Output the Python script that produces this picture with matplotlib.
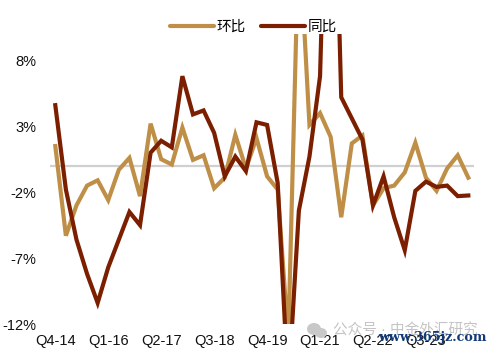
import matplotlib
matplotlib.use('Agg')
import numpy as np
import matplotlib.pyplot as plt
from matplotlib.patches import Ellipse

plt.rcParams['font.family'] = ['Liberation Sans', 'Noto Sans CJK SC', 'DejaVu Sans']

TAN = '#BF8F47'
DARK = '#7B1F00'

quarters = ['Q4-14', 'Q1-15', 'Q2-15', 'Q3-15', 'Q4-15', 'Q1-16', 'Q2-16', 'Q3-16',
            'Q4-16', 'Q1-17', 'Q2-17', 'Q3-17', 'Q4-17', 'Q1-18', 'Q2-18', 'Q3-18',
            'Q4-18', 'Q1-19', 'Q2-19', 'Q3-19', 'Q4-19', 'Q1-20', 'Q2-20', 'Q3-20',
            'Q4-20', 'Q1-21', 'Q2-21', 'Q3-21', 'Q4-21', 'Q1-22', 'Q2-22', 'Q3-22',
            'Q4-22', 'Q1-23', 'Q2-23', 'Q3-23', 'Q4-23', 'Q1-24', 'Q2-24', 'Q3-24']
shown_labels = ['Q4-14', 'Q1-16', 'Q2-17', 'Q3-18', 'Q4-19', 'Q1-21', 'Q2-22', 'Q3-23']

qoq = [1.5, -5.3, -3.0, -1.5, -1.1, -2.6, -0.3, 0.6, -2.3, 3.2,
       0.5, 0.1, 2.9, 0.45, 0.8, -1.7, -0.9, 2.35, -0.2, 2.1,
       -0.8, -1.8, -13.2, 18.0, 3.1, 4.0, 2.2, -3.9, 1.7, 2.3,
       -3.0, -1.7, -1.5, -0.5, 1.75, -0.9, -1.9, -0.2, 0.8, -0.9]
yoy = [4.6, -1.8, -5.6, -8.2, -10.4, -7.7, -5.6, -3.5, -4.5, 1.0,
       1.9, 1.4, 6.8, 3.9, 4.2, 2.5, -0.8, 0.7, -0.4, 3.3,
       3.1, -1.3, -17.0, -3.4, 0.7, 6.8, 35.0, 5.2, 3.6, 2.0,
       -3.0, -0.8, -3.9, -6.4, -1.9, -1.2, -1.6, -1.5, -2.3, -2.25]
yticks = [8, 3, -2, -7, -12]

fig = plt.figure(figsize=(5, 3.53), dpi=100)
ax = fig.add_axes([50 / 500, 1 - 324 / 353, 423.6 / 500, 290 / 353])

x = np.arange(len(quarters))
ax.axhline(0, color='#D0D0D0', lw=1.6, zorder=1)
ax.plot(x, qoq, color=TAN, lw=3, label='环比', zorder=2, solid_joinstyle='miter')
ax.plot(x, yoy, color=DARK, lw=3, label='同比', zorder=3, solid_joinstyle='miter')

ax.set_xlim(-0.5, 39.5)
ax.set_ylim(-12, 10)
ax.set_yticks(yticks)
ax.set_yticklabels([f'{v}%' for v in yticks], fontsize=10.5, color='#111111')
ax.set_xticks([quarters.index(q) for q in shown_labels])
ax.set_xticklabels(shown_labels, fontsize=10.5, color='#111111')
ax.tick_params(length=0, axis='y', pad=10)
ax.tick_params(length=0, axis='x', pad=7)
for s in ax.spines.values():
    s.set_visible(False)

leg = ax.legend(loc='center', bbox_to_anchor=(0.481, 1.025), ncol=2, frameon=False,
                fontsize=10.5, handlelength=3, handletextpad=0.2, columnspacing=1.05,
                borderpad=0, borderaxespad=0)
for h in leg.get_lines():
    h.set_solid_capstyle('round')

# watermark along the lower right corner
for cx, cy, w, h in [(314, 329, 14, 12), (321, 333, 12, 10)]:
    fig.add_artist(Ellipse((cx / 500, 1 - cy / 353), w / 500, h / 353, color='#C8C8C8', lw=0))
fig.text(333 / 500, 1 - 331 / 353, '公众号 · 中金外汇研究', fontsize=10.5, color='#C4C4C4',
         va='center', ha='left')
fig.text(378 / 500, 1 - 338 / 353, 'www.365jz.com', fontsize=9.2, color='#123A78', va='center',
         ha='left', family='DejaVu Serif', weight='bold')

fig.savefig('out.png', dpi=100)
